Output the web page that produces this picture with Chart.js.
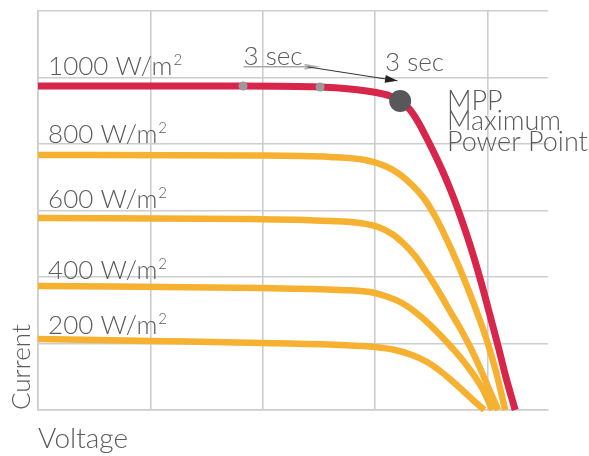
<!DOCTYPE html>
<html><head><meta charset="utf-8">
<script src="https://cdn.jsdelivr.net/npm/chart.js@4"></script>
<style>html,body{margin:0;padding:0;background:#fff}</style>
</head><body>
<canvas id="c" width="589" height="456"></canvas>
<script>
// ---- data (x = voltage, y = current, grid units) ----
const v1000 = [0, 1.825, 2.511, 2.778, 2.983, 3.134, 3.224, 3.313, 3.384, 3.455, 3.526, 3.597, 3.669, 3.740, 3.811, 3.882, 3.954, 4.025, 4.096, 4.167, 4.248];
const i1000 = [4.872, 4.872, 4.857, 4.827, 4.782, 4.722, 4.647, 4.511, 4.331, 4.105, 3.865, 3.609, 3.323, 3.008, 2.662, 2.286, 1.865, 1.414, 0.962, 0.481, 0];
const v800 = [0, 1.888, 2.600, 2.912, 3.090, 3.224, 3.339, 3.446, 3.544, 3.633, 3.722, 3.811, 3.900, 3.989, 4.078, 4.159];
const i800 = [3.835, 3.827, 3.805, 3.759, 3.669, 3.541, 3.368, 3.158, 2.887, 2.586, 2.256, 1.895, 1.504, 1.083, 0.571, 0];
const v600 = [0, 1.888, 2.600, 2.867, 3.028, 3.152, 3.259, 3.357, 3.446, 3.526, 3.606, 3.687, 3.767, 3.847, 3.927, 4.007, 4.096];
const i600 = [2.887, 2.872, 2.842, 2.812, 2.752, 2.647, 2.496, 2.316, 2.105, 1.895, 1.669, 1.429, 1.203, 0.947, 0.662, 0.346, 0];
const v400 = [0, 1.995, 2.689, 2.956, 3.117, 3.241, 3.357, 3.473, 3.580, 3.687, 3.793, 3.891, 3.972, 4.043];
const i400 = [1.865, 1.835, 1.805, 1.774, 1.699, 1.609, 1.474, 1.308, 1.128, 0.932, 0.722, 0.496, 0.271, 0];
const v200 = [0, 0.997, 1.995, 2.689, 3.001, 3.179, 3.330, 3.464, 3.580, 3.687, 3.785, 3.882, 3.972];
const i200 = [1.068, 1.038, 1.008, 0.977, 0.947, 0.902, 0.827, 0.722, 0.586, 0.436, 0.286, 0.135, 0];
const trackV = [1.825, 2.511];
const trackI = [4.872, 4.857];
const mppV = [3.224];
const mppI = [4.647];
const seriesLabels = ['1000 W/m', '800 W/m', '600 W/m', '400 W/m', '200 W/m'];
const xTitle = 'Voltage';
const yTitle = 'Current';

const pts = (xs, ys) => xs.map((x, i) => ({x, y: ys[i]}));
const RED = '#d8254b', ORANGE = '#f6b130', TEXT = '#5b5b5b', GRID = '#cdcdcd';
const FONT = 'Lato, "Open Sans", sans-serif';

// annotation placement (data coordinates)
const labelPos = [[0.09, 5.04], [0.09, 4.02], [0.09, 3.04], [0.09, 1.97], [0.09, 1.14]];
const notes = [
  {text: '3 sec', x: 1.83, y: 5.19, underline: true},
  {text: '3 sec', x: 3.09, y: 5.10},
  {text: 'MPP', x: 3.64, y: 4.51, size: 27},
  {text: 'Maximum', x: 3.64, y: 4.21, size: 27},
  {text: 'Power Point', x: 3.64, y: 3.89, size: 27}
];
const arrowFrom = [2.40, 5.16], arrowTo = [3.20, 4.95];

const annot = {
  id: 'annot',
  afterDatasetsDraw(chart) {
    const {ctx, scales: {x, y}} = chart;
    ctx.save();
    ctx.fillStyle = TEXT;
    ctx.textBaseline = 'alphabetic';
    ctx.textAlign = 'left';
    seriesLabels.forEach((t, i) => {
      const px = x.getPixelForValue(labelPos[i][0]);
      const py = y.getPixelForValue(labelPos[i][1]);
      ctx.font = '300 26px ' + FONT;
      ctx.fillText(t, px, py);
      const w = ctx.measureText(t).width;
      ctx.font = '300 15px ' + FONT;
      ctx.fillText('2', px + w + 1, py - 10);
    });
    notes.forEach(n => {
      const px = x.getPixelForValue(n.x);
      const py = y.getPixelForValue(n.y);
      ctx.font = '300 ' + (n.size || 26) + 'px ' + FONT;
      ctx.fillStyle = TEXT;
      ctx.fillText(n.text, px, py);
      if (n.underline) {
        const w = ctx.measureText(n.text).width;
        ctx.strokeStyle = '#a9a9a9';
        ctx.lineWidth = 1.5;
        ctx.beginPath(); ctx.moveTo(px, py + 2); ctx.lineTo(px + w + 2, py + 2); ctx.stroke();
        ctx.fillStyle = '#b4b4b4';
        ctx.beginPath();
        ctx.moveTo(px + w + 2, py - 1);
        ctx.lineTo(px + w + 18, py + 2);
        ctx.lineTo(px + w + 2, py + 5);
        ctx.closePath(); ctx.fill();
      }
    });
    const ax = x.getPixelForValue(arrowFrom[0]), ay = y.getPixelForValue(arrowFrom[1]);
    const bx = x.getPixelForValue(arrowTo[0]), by = y.getPixelForValue(arrowTo[1]);
    ctx.strokeStyle = '#333'; ctx.lineWidth = 1;
    ctx.beginPath(); ctx.moveTo(ax, ay); ctx.lineTo(bx, by); ctx.stroke();
    const ang = Math.atan2(by - ay, bx - ax);
    ctx.fillStyle = '#222';
    ctx.beginPath();
    ctx.moveTo(bx, by);
    ctx.lineTo(bx - 13 * Math.cos(ang - 0.3), by - 13 * Math.sin(ang - 0.3));
    ctx.lineTo(bx - 13 * Math.cos(ang + 0.3), by - 13 * Math.sin(ang + 0.3));
    ctx.closePath(); ctx.fill();
    ctx.restore();
  }
};

const lineDs = (xs, ys, color, width, order) => ({
  type: 'line', data: pts(xs, ys), borderColor: color, borderWidth: width,
  pointRadius: 0, cubicInterpolationMode: 'monotone', fill: false, order, clip: false
});

new Chart(document.getElementById('c'), {
  type: 'line',
  data: {
    datasets: [
      {type: 'scatter', data: pts(mppV, mppI), pointRadius: 11, backgroundColor: '#58585a', borderWidth: 0, order: 0},
      {type: 'scatter', data: pts(trackV, trackI), pointRadius: 4.5, backgroundColor: '#9a9a9a', borderWidth: 0, order: 0},
      lineDs(v1000, i1000, RED, 7, 1),
      lineDs(v800, i800, ORANGE, 6.5, 2),
      lineDs(v600, i600, ORANGE, 6.5, 2),
      lineDs(v400, i400, ORANGE, 6.5, 2),
      lineDs(v200, i200, ORANGE, 6.5, 2)
    ]
  },
  options: {
    responsive: false, animation: false,
    layout: {padding: {top: 11, right: 41, left: 0, bottom: 0}},
    plugins: {legend: {display: false}, tooltip: {enabled: false}},
    scales: {
      x: {
        type: 'linear', min: 0, max: 4.54,
        ticks: {display: false, stepSize: 1},
        grid: {drawTicks: false, lineWidth: 1.6, color: c => (c.tick && Number.isInteger(c.tick.value)) ? GRID : 'rgba(0,0,0,0)'},
        border: {display: true, color: GRID, width: 1.6},
        title: {display: true, text: xTitle, align: 'start', color: TEXT, font: {family: FONT, size: 28, weight: 300}, padding: {top: 0, bottom: 0}},
        afterFit: s => { s.height = 46; }
      },
      y: {
        min: 0, max: 6,
        ticks: {display: false, stepSize: 1},
        grid: {drawTicks: false, lineWidth: 1.6, color: GRID},
        border: {display: true, color: GRID, width: 1.6},
        title: {display: true, text: yTitle, align: 'start', color: TEXT, font: {family: FONT, size: 26, weight: 300}, padding: {top: 6, bottom: 0}},
        afterFit: s => { s.width = 38; }
      }
    }
  },
  plugins: [annot]
});
</script>
</body></html>
